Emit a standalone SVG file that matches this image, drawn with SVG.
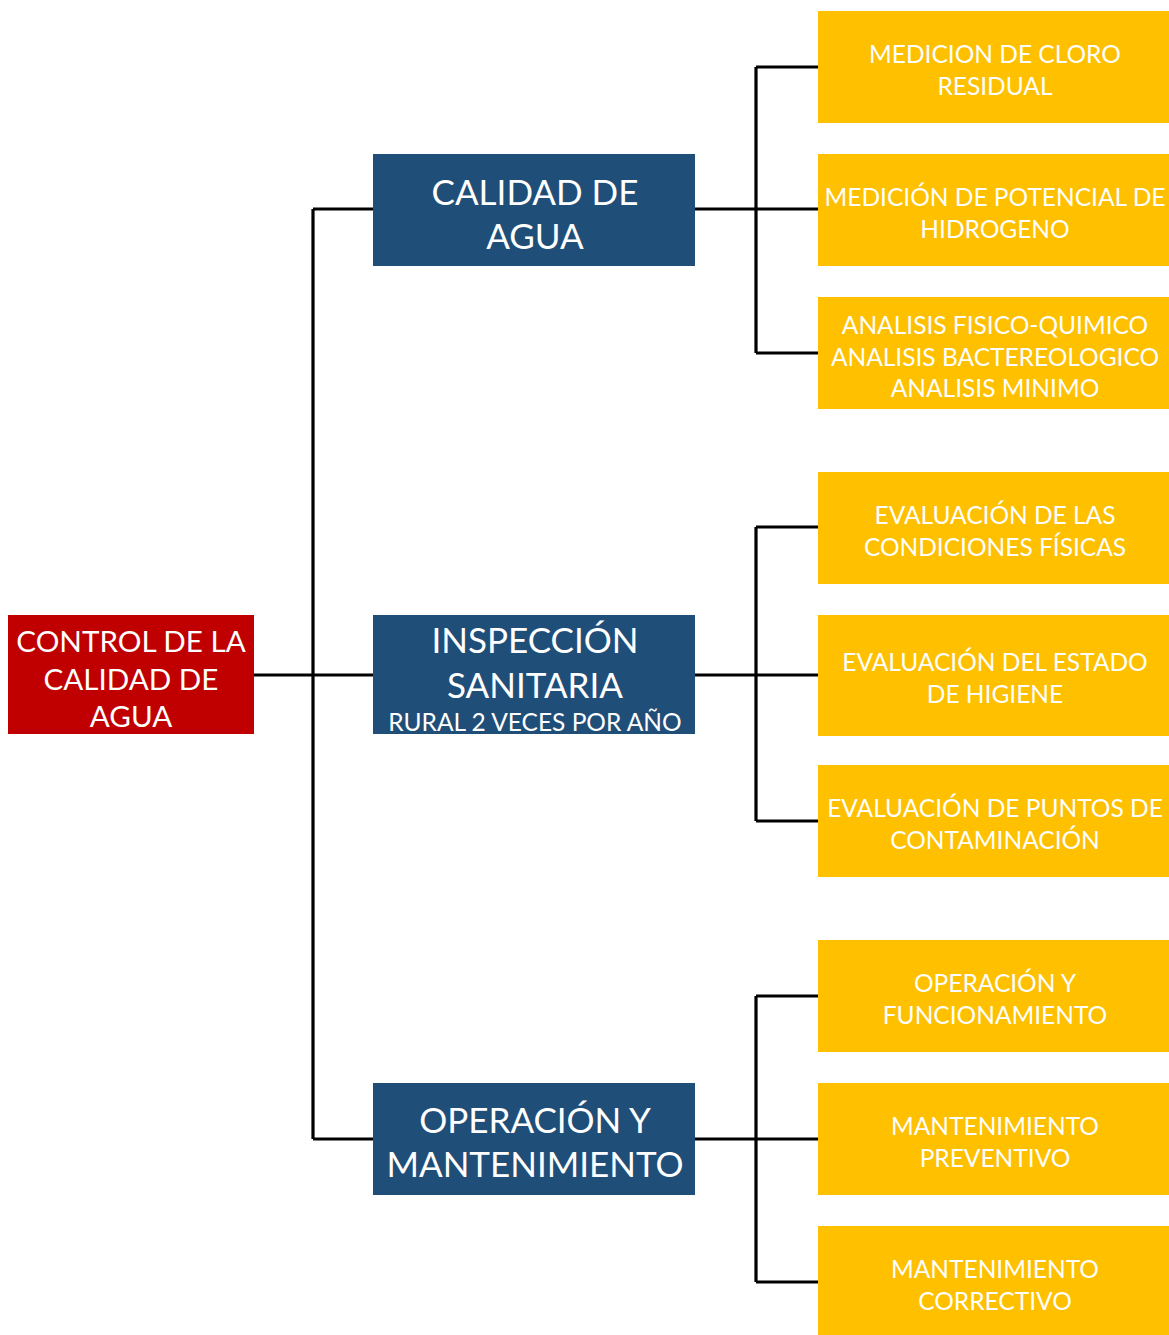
<svg xmlns="http://www.w3.org/2000/svg" width="1169" height="1335" viewBox="0 0 1169 1335">
<style>
text{font-family:Lato,"Liberation Sans",sans-serif;fill:#fff;text-anchor:middle}
.r{fill:#C00000}.b{fill:#1F4E79}.y{fill:#FFC000}
.rt{font-size:29.6px}.bt{font-size:35px}.st{font-size:24.5px}.yt{font-size:24.5px}
.c{stroke:#000;stroke-width:3.2;fill:none}
</style>
<rect width="1169" height="1335" fill="#fff"/>
<g id="connectors">
<path class="c" d="M254 675H373M313 209V1139M313 209H373M313 1139H373"/>
<path class="c" d="M695 209H818M756 67V353M756 67H818M756 353H818"/>
<path class="c" d="M695 675H818M756 527V821M756 527H818M756 821H818"/>
<path class="c" d="M695 1139H818M756 996V1282M756 996H818M756 1282H818"/>
</g>
<g id="root"><rect class="r" x="8" y="615" width="246" height="119"/>
<text class="rt" x="131" y="652">CONTROL DE LA</text><text class="rt" x="131" y="690">CALIDAD DE</text><text class="rt" x="131" y="727">AGUA</text></g>
<g id="calidad"><rect class="b" x="373" y="154" width="322" height="112"/>
<text class="bt" x="535" y="205">CALIDAD DE</text><text class="bt" x="535" y="249">AGUA</text></g>
<g id="inspeccion"><rect class="b" x="373" y="615" width="322" height="119"/>
<text class="bt" x="535" y="653">INSPECCIÓN</text><text class="bt" x="535" y="698">SANITARIA</text><text class="st" x="535" y="731">RURAL 2 VECES POR AÑO</text></g>
<g id="operacion"><rect class="b" x="373" y="1083" width="322" height="112"/>
<text class="bt" x="535" y="1133">OPERACIÓN Y</text><text class="bt" x="535" y="1177">MANTENIMIENTO</text></g>
<g id="y1"><rect class="y" x="818" y="11" width="351" height="112"/>
<text class="yt" x="995" y="63">MEDICION DE CLORO</text><text class="yt" x="995" y="95">RESIDUAL</text></g>
<g id="y2"><rect class="y" x="818" y="154" width="351" height="112"/>
<text class="yt" x="995" y="206">MEDICIÓN DE POTENCIAL DE</text><text class="yt" x="995" y="238">HIDROGENO</text></g>
<g id="y3"><rect class="y" x="818" y="297" width="351" height="112"/>
<text class="yt" x="995" y="334">ANALISIS FISICO-QUIMICO</text><text class="yt" x="995" y="366">ANALISIS BACTEREOLOGICO</text><text class="yt" x="995" y="397">ANALISIS MINIMO</text></g>
<g id="y4"><rect class="y" x="818" y="472" width="351" height="112"/>
<text class="yt" x="995" y="524">EVALUACIÓN DE LAS</text><text class="yt" x="995" y="556">CONDICIONES FÍSICAS</text></g>
<g id="y5"><rect class="y" x="818" y="615" width="351" height="121"/>
<text class="yt" x="995" y="671">EVALUACIÓN DEL ESTADO</text><text class="yt" x="995" y="703">DE HIGIENE</text></g>
<g id="y6"><rect class="y" x="818" y="765" width="351" height="112"/>
<text class="yt" x="995" y="817">EVALUACIÓN DE PUNTOS DE</text><text class="yt" x="995" y="849">CONTAMINACIÓN</text></g>
<g id="y7"><rect class="y" x="818" y="940" width="351" height="112"/>
<text class="yt" x="995" y="992">OPERACIÓN Y</text><text class="yt" x="995" y="1024">FUNCIONAMIENTO</text></g>
<g id="y8"><rect class="y" x="818" y="1083" width="351" height="112"/>
<text class="yt" x="995" y="1135">MANTENIMIENTO</text><text class="yt" x="995" y="1167">PREVENTIVO</text></g>
<g id="y9"><rect class="y" x="818" y="1226" width="351" height="109"/>
<text class="yt" x="995" y="1278">MANTENIMIENTO</text><text class="yt" x="995" y="1310">CORRECTIVO</text></g>
</svg>
